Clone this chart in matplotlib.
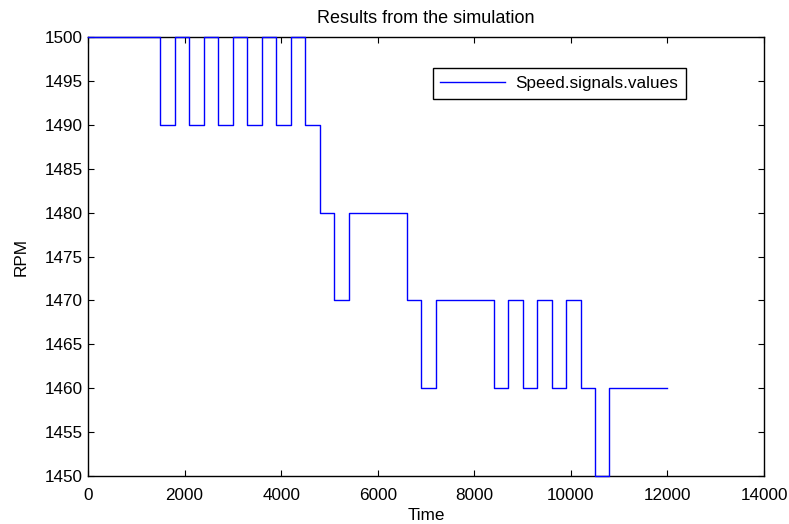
import matplotlib
matplotlib.use("Agg")
import matplotlib.pyplot as plt

plt.rcParams["font.family"] = ["Liberation Sans", "DejaVu Sans"]
plt.rcParams["font.size"] = 12.3

# switching instants and the speed held from each one onward
times = [0, 1500, 1800, 2100, 2400, 2700, 3000, 3300, 3600, 3900, 4200, 4500,
         4800, 5100, 5400, 6600, 6900, 7200, 8400, 8700, 9000, 9300, 9600,
         9900, 10200, 10500, 10800, 12000]
speed = [1500, 1490, 1500, 1490, 1500, 1490, 1500, 1490, 1500, 1490, 1500, 1490,
         1480, 1470, 1480, 1470, 1460, 1470, 1460, 1470, 1460, 1470, 1460,
         1470, 1460, 1450, 1460, 1460]

x_ticks = [0, 2000, 4000, 6000, 8000, 10000, 12000, 14000]
y_ticks = [1450, 1455, 1460, 1465, 1470, 1475, 1480, 1485, 1490, 1495, 1500]

fig = plt.figure(figsize=(7.89, 5.24), dpi=100)
ax = fig.add_axes([88 / 789, 48 / 524, 676 / 789, 439 / 524])

ax.step(times, speed, where="post", color="#0000ff", lw=1.0,
        label="Speed.signals.values", clip_on=False, zorder=3)

ax.set_xlim(0, 14000)
ax.set_ylim(1450, 1500)
ax.set_xticks(x_ticks)
ax.set_yticks(y_ticks)
ax.tick_params(direction="in", length=4, width=0.8, top=True, right=True,
               labelsize=12.3)
ax.tick_params(axis="x", pad=9)
ax.tick_params(axis="y", pad=4)
for s in ax.spines.values():
    s.set_linewidth(1.0)

ax.set_title("Results from the simulation", fontsize=13, pad=10)
ax.set_xlabel("Time", fontsize=12.3, labelpad=3)
ax.set_ylabel("RPM", fontsize=12.3, labelpad=11)

leg = ax.legend(loc="upper left", bbox_to_anchor=(0.51, 0.929),
                borderaxespad=0, fancybox=False, edgecolor="black",
                framealpha=1, handlelength=3.8, fontsize=12.3,
                borderpad=0.45, handletextpad=0.6)
leg.get_frame().set_linewidth(1.0)

fig.savefig("out.png", dpi=100)
